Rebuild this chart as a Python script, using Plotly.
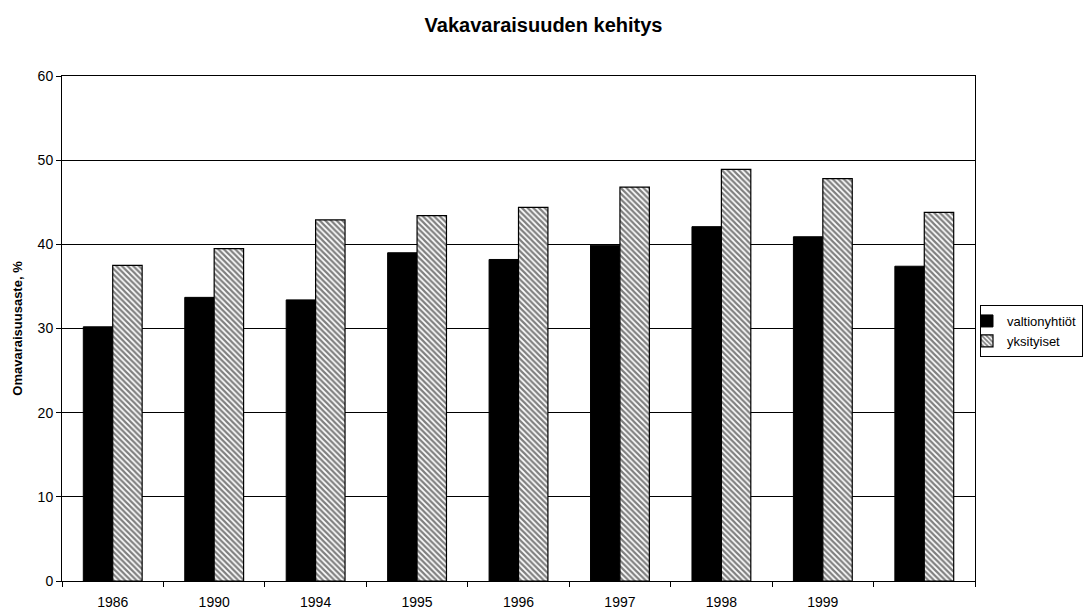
import plotly.graph_objects as go

categories = ["1986", "1990", "1994", "1995", "1996", "1997", "1998", "1999", " "]
valtionyhtiot = [30.2, 33.7, 33.4, 39.0, 38.2, 39.9, 42.1, 40.9, 37.4]
yksityiset = [37.5, 39.5, 42.9, 43.4, 44.4, 46.8, 48.9, 47.8, 43.8]
yticks = [0, 10, 20, 30, 40, 50, 60]

fig = go.Figure()
fig.add_trace(go.Bar(
    x=categories, y=valtionyhtiot, name="valtionyhtiöt",
    marker=dict(color="black", line=dict(color="black", width=1)),
))
fig.add_trace(go.Bar(
    x=categories, y=yksityiset, name="yksityiset",
    marker=dict(color="white", line=dict(color="black", width=1.2),
                pattern=dict(shape="\\", fgcolor="black", bgcolor="white", size=4, solidity=0.55)),
))

fig.update_layout(
    width=1087, height=613,
    paper_bgcolor="white", plot_bgcolor="white",
    margin=dict(l=62, r=112, t=76, b=32, autoexpand=False),
    barmode="group", bargap=0.42, bargroupgap=0,
    font=dict(family="Liberation Sans, Arial", size=14, color="black"),
    title=dict(text="<b>Vakavaraisuuden kehitys</b>", x=0.5, xref="container", xanchor="center",
               y=1 - 25 / 613, yref="container", yanchor="middle",
               font=dict(size=20, family="Liberation Sans, Arial", color="black")),
    showlegend=True,
    legend=dict(x=(980 - 62) / 913, xanchor="left", y=(581 - 305) / 505, yanchor="top",
                bordercolor="black", borderwidth=1, bgcolor="white",
                font=dict(size=13), tracegroupgap=0, itemwidth=30, indentation=-14),
    xaxis=dict(type="category", tickson="boundaries", ticks="outside", ticklen=5,
               tickcolor="black", showline=True, linecolor="black", linewidth=1,
               mirror=True, showgrid=False, tickfont=dict(size=14), ticklabelstandoff=8),
    yaxis=dict(range=[0, 60], tickvals=yticks, ticks="outside", ticklen=5,
               tickcolor="black", showline=True, linecolor="black", linewidth=1,
               mirror=True, showgrid=True, gridcolor="black", gridwidth=1,
               zeroline=False, tickfont=dict(size=14),
               title=dict(text="<b>Omavaraisuusaste, %</b>", font=dict(size=13), standoff=12)),
)

fig.write_html("out.html", config={"displayModeBar": False},
               post_script="document.body.style.margin='0';")
